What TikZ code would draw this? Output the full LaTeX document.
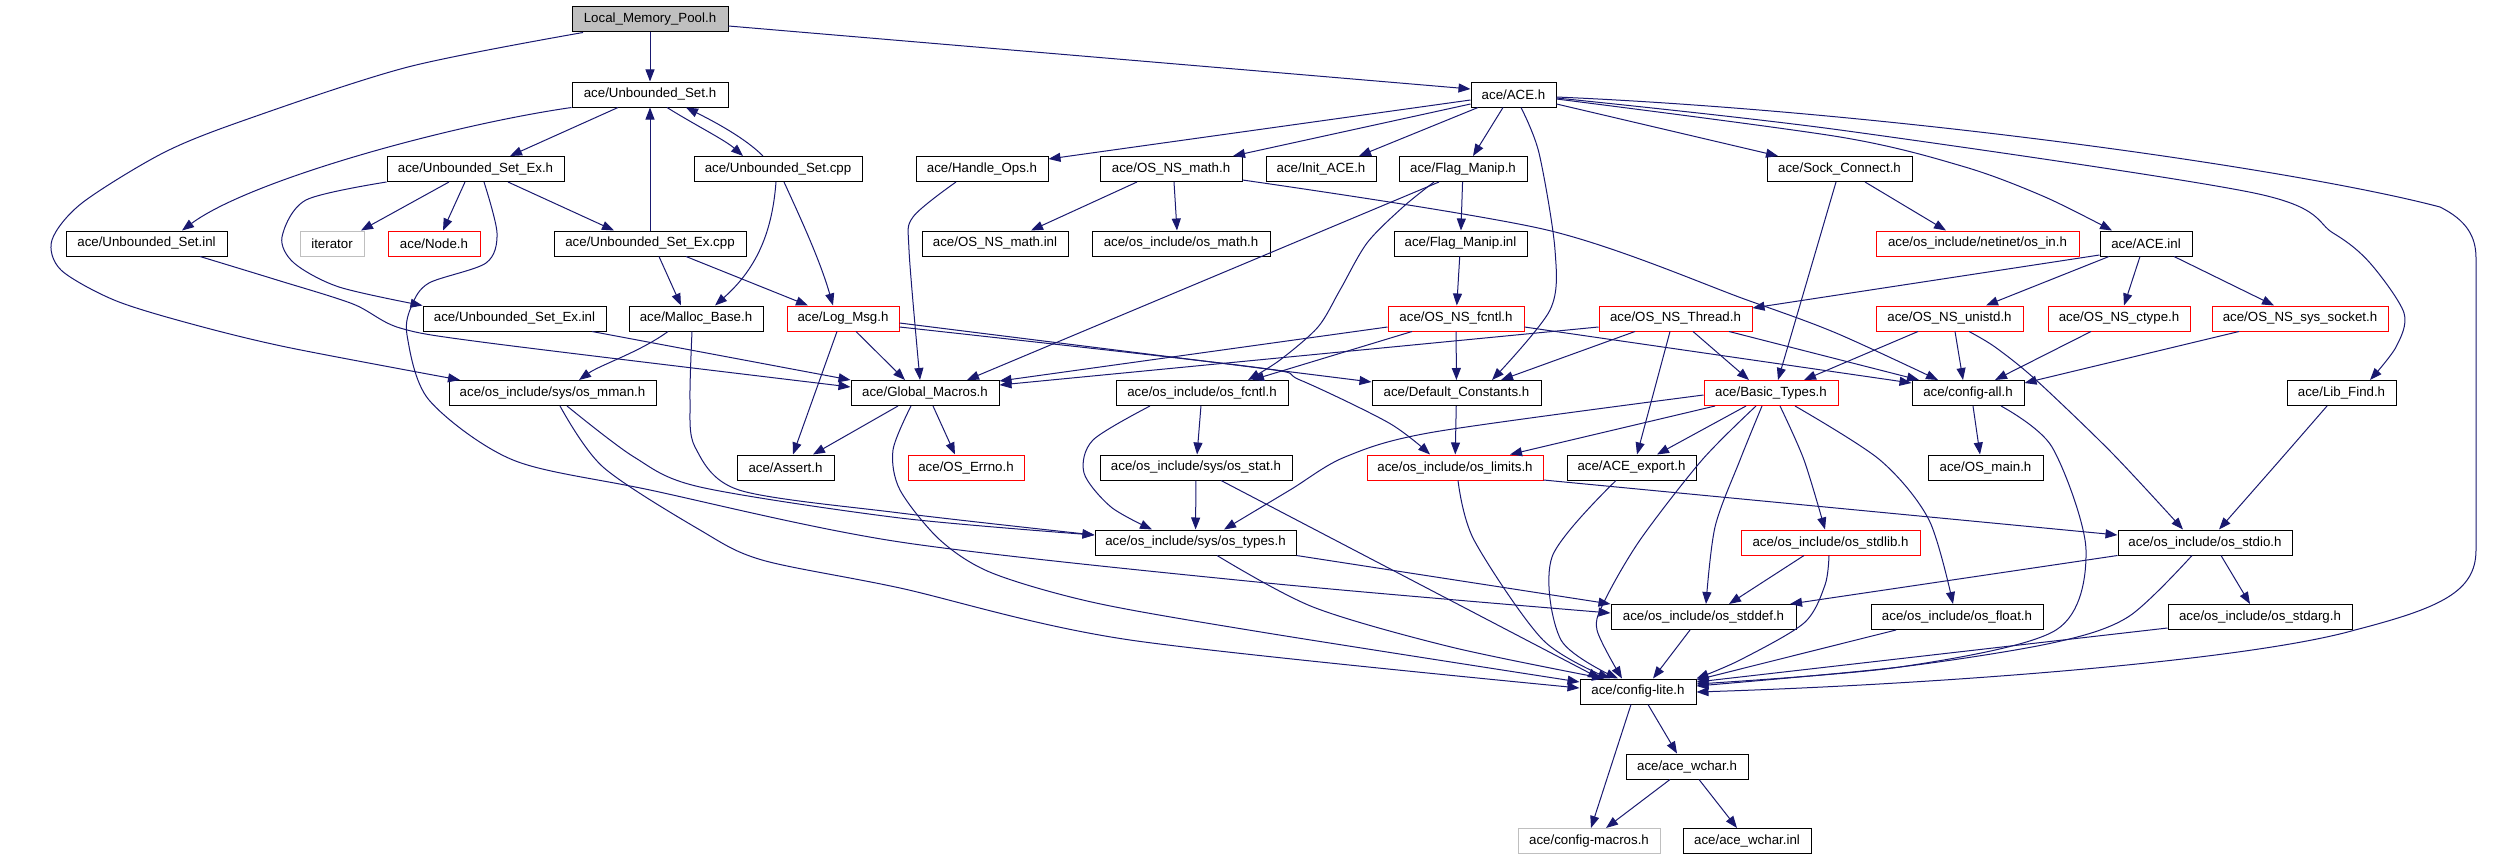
\documentclass[tikz,border=0pt]{standalone}
\usepackage{fontspec}
\setmainfont{Liberation Sans}
\usetikzlibrary{arrows.meta}
\definecolor{edgeblue}{HTML}{191970}
\definecolor{boxgray}{HTML}{BFBFBF}
\newcommand\nfont{\fontsize{13.3pt}{16pt}\selectfont}
\tikzset{
  box/.style={draw=black, line width=1pt, minimum height=25pt, inner sep=0pt, font=\nfont, text=black},
  redbox/.style={box, draw=red},
  graybox/.style={box, draw=boxgray},
  e/.style={draw=edgeblue, line width=1pt, -{Triangle[length=12pt,width=9pt]}},
}
\begin{document}
\begin{tikzpicture}[x=1pt,y=-1pt]
\useasboundingbox (0,0) rectangle (2495,859);
% row 1
\node[box, minimum width=156pt, fill=boxgray] (lmp) at (650,19.5) {Local\_Memory\_Pool.h};
% row 2
\node[box, minimum width=156pt] (usH) at (650,94.5) {ace/Unbounded\_Set.h};
\node[box, minimum width=85pt] (ace) at (1513.5,94.5) {ace/ACE.h};
% row 3
\node[box, minimum width=177pt] (usExH) at (475.5,169) {ace/Unbounded\_Set\_Ex.h};
\node[box, minimum width=168pt] (usCpp) at (778,169) {ace/Unbounded\_Set.cpp};
\node[box, minimum width=132pt] (handle) at (982,169) {ace/Handle\_Ops.h};
\node[box, minimum width=142pt] (nsmath) at (1171,169) {ace/OS\_NS\_math.h};
\node[box, minimum width=110pt] (init) at (1321,169) {ace/Init\_ACE.h};
\node[box, minimum width=128pt] (flag) at (1463,169) {ace/Flag\_Manip.h};
\node[box, minimum width=145pt] (sock) at (1839.5,169) {ace/Sock\_Connect.h};
% row 4
\node[box, minimum width=161pt] (usInl) at (146.5,243.5) {ace/Unbounded\_Set.inl};
\node[graybox, minimum width=64pt] (iter) at (332,243.5) {iterator};
\node[redbox, minimum width=92pt] (nodeh) at (434,243.5) {ace/Node.h};
\node[box, minimum width=192pt] (usExCpp) at (650,243.5) {ace/Unbounded\_Set\_Ex.cpp};
\node[box, minimum width=146pt] (nsmathInl) at (995,243.5) {ace/OS\_NS\_math.inl};
\node[box, minimum width=178pt] (osmath) at (1181,243.5) {ace/os\_include/os\_math.h};
\node[box, minimum width=133pt] (flagInl) at (1460.5,243.5) {ace/Flag\_Manip.inl};
\node[redbox, minimum width=203pt] (osin) at (1977.5,243.5) {ace/os\_include/netinet/os\_in.h};
\node[box, minimum width=92pt] (aceInl) at (2146,243.5) {ace/ACE.inl};
% row 5
\node[box, minimum width=183pt] (usExInl) at (514.5,318.5) {ace/Unbounded\_Set\_Ex.inl};
\node[box, minimum width=134pt] (malloc) at (696,318.5) {ace/Malloc\_Base.h};
\node[redbox, minimum width=112pt] (logmsg) at (843,318.5) {ace/Log\_Msg.h};
\node[redbox, minimum width=136pt] (nsfcntl) at (1456,318.5) {ace/OS\_NS\_fcntl.h};
\node[redbox, minimum width=153pt] (nsthread) at (1675.5,318.5) {ace/OS\_NS\_Thread.h};
\node[redbox, minimum width=147pt] (nsunistd) at (1949.5,318.5) {ace/OS\_NS\_unistd.h};
\node[redbox, minimum width=142pt] (nsctype) at (2119,318.5) {ace/OS\_NS\_ctype.h};
\node[redbox, minimum width=176pt] (nssock) at (2300,318.5) {ace/OS\_NS\_sys\_socket.h};
% row 6
\node[box, minimum width=207pt] (mman) at (552.5,393) {ace/os\_include/sys/os\_mman.h};
\node[box, minimum width=148pt] (gm) at (925,393) {ace/Global\_Macros.h};
\node[box, minimum width=172pt] (osfcntl) at (1202,393) {ace/os\_include/os\_fcntl.h};
\node[box, minimum width=169pt] (defc) at (1456.5,393) {ace/Default\_Constants.h};
\node[redbox, minimum width=134pt] (basic) at (1771,393) {ace/Basic\_Types.h};
\node[box, minimum width=112pt] (cfgall) at (1968,393) {ace/config-all.h};
\node[box, minimum width=109pt] (libfind) at (2341.5,393) {ace/Lib\_Find.h};
% row 7
\node[box, minimum width=97pt] (assert) at (785.5,467.5) {ace/Assert.h};
\node[redbox, minimum width=116pt] (errno) at (966,467.5) {ace/OS\_Errno.h};
\node[box, minimum width=192pt] (osstat) at (1196,467.5) {ace/os\_include/sys/os\_stat.h};
\node[redbox, minimum width=176pt] (limits) at (1455,467.5) {ace/os\_include/os\_limits.h};
\node[box, minimum width=129pt] (export) at (1631.5,467.5) {ace/ACE\_export.h};
\node[box, minimum width=115pt] (osmain) at (1985.5,467.5) {ace/OS\_main.h};
% row 8
\node[box, minimum width=201pt] (ostypes) at (1195.5,542.5) {ace/os\_include/sys/os\_types.h};
\node[redbox, minimum width=179pt] (stdlib) at (1830.5,542.5) {ace/os\_include/os\_stdlib.h};
\node[box, minimum width=174pt] (stdio) at (2205,542.5) {ace/os\_include/os\_stdio.h};
% row 9
\node[box, minimum width=185pt] (stddef) at (1703.5,617) {ace/os\_include/os\_stddef.h};
\node[box, minimum width=172pt] (float) at (1957,617) {ace/os\_include/os\_float.h};
\node[box, minimum width=184pt] (stdarg) at (2260,617) {ace/os\_include/os\_stdarg.h};
% row 10-12
\node[box, minimum width=116pt] (lite) at (1638,691.5) {ace/config-lite.h};
\node[box, minimum width=122pt] (wchar) at (1687,766.5) {ace/ace\_wchar.h};
\node[graybox, minimum width=142pt] (macros) at (1589,841) {ace/config-macros.h};
\node[box, minimum width=128pt] (wcharInl) at (1747,841) {ace/ace\_wchar.inl};

% ---------------- edges ----------------
\draw[e] (lmp) -- (usH);
\draw[e] (lmp.east |- 0,26) -- (ace.west |- 0,89);
\draw[e] plot[smooth] coordinates {(lmp.south -| 583,0) (408,67) (245,120) (163,153) (82,203) (52,240) (61,270) (114,300) (188,323) (286,347) (mman.north -| 460,0)};
\draw[e] (usH.south -| 618,0) -- (usExH.north -| 510,0);
\draw[e] (usH.south west) .. controls (450,125) and (250,180) .. (usInl.north -| 182,0);
\draw[e] (usH.south -| 667,0) .. controls (695,125) and (725,140) .. (usCpp.north -| 743,0);
\draw[e] (usCpp.north -| 763,0) .. controls (745,138) and (715,122) .. (usH.south -| 686,0);
\draw[e] (usExCpp) -- (usH);
\draw[e] (usExH.south -| 449,0) -- (iter.north -| 361,0);
\draw[e] (usExH.south -| 465,0) -- (nodeh.north -| 443,0);
\draw[e] (usExH.south -| 508,0) -- (usExCpp.north -| 614,0);
\draw[e] plot[smooth] coordinates {(usExH.south west) (306,200) (282,237) (294,263) (339,287) (usExInl.north west)};
\draw[e] plot[smooth] coordinates {(usExH.south -| 484,0) (497,233) (486,263) (429,283) (412,305) (407,335) (429,400) (513,460) (650,490) (900,542) (1267,583) (stddef.west |- 0,613)};
\draw[e] (usCpp.south -| 776,0) .. controls (772,235) and (755,270) .. (malloc.north -| 715,0);
\draw[e] (usCpp.south -| 784,0) .. controls (800,217) and (820,260) .. (logmsg.north -| 833,0);
\draw[e] (usExCpp.south -| 659,0) -- (malloc.north -| 681,0);
\draw[e] (usExCpp.south -| 686,0) -- (logmsg.north -| 808,0);
\draw[e] plot[smooth] coordinates {(usInl.south -| 200,0) (277,280) (353,304) (400,328) (489,343) (gm.west |- 0,387)};
\draw[e] (usExInl.south -| 592,0) -- (gm.north west);
\draw[e] (malloc.south -| 668,0) .. controls (640,352) and (600,365) .. (mman.north -| 579,0);
\draw[e] plot[smooth] coordinates {(malloc.south -| 692,0) (690,400) (695,447) (739,490) (900,513) (ostypes.west |- 0,535)};
\draw[e] (logmsg.south -| 856,0) -- (gm.north -| 905,0);
\draw[e] (logmsg.south -| 837,0) -- (assert.north -| 793,0);
\draw[e] (logmsg.east |- 0,323) -- (defc.west |- 0,382);
\draw[e] plot[smooth] coordinates {(logmsg.east |- 0,327) (1253,367) (1300,380) (1389,423) (limits.north -| 1430,0)};
\draw[e] plot[smooth] coordinates {(handle.south -| 956,0) (913,217) (909,250) (gm.north -| 920,0)};
\draw[e] (nsmath.south -| 1137,0) -- (nsmathInl.north -| 1031,0);
\draw[e] (nsmath.south -| 1174,0) -- (osmath.north -| 1177,0);
\draw[e] plot[smooth] coordinates {(nsmath.east |- 0,180) (1547,230) (1747,300) (1836,333) (cfgall.north -| 1938,0)};
\draw[e] (ace.west |- 0,100) -- (handle.east |- 0,159);
\draw[e] (ace.west |- 0,104) -- (nsmath.north -| 1233,0);
\draw[e] (ace.south -| 1478,0) -- (init.north -| 1359,0);
\draw[e] (ace.south -| 1503,0) -- (flag.north -| 1473,0);
\draw[e] plot[smooth] coordinates {(ace.south -| 1521,0) (1539,153) (1555,250) (1550,310) (defc.north -| 1492,0)};
\draw[e] (ace.east |- 0,104) -- (sock.north -| 1778,0);
\draw[e] plot[smooth] coordinates {(ace.east |- 0,99) (1840,137) (1965,167) (2045,197) (aceInl.north -| 2112,0)};
\draw[e] plot[smooth] coordinates {(ace.east |- 0,98) (1840,130) (2254,193) (2333,233) (2370,263) (2404,313) (2396,347) (libfind.north -| 2370,0)};
\draw[e] (ace.east |- 0,97) .. controls (1900,112) and (2300,170) .. (2440,207)
   .. controls (2466,220) and (2476,236) .. (2476,258) -- (2476,550)
   .. controls (2476,592) and (2440,608) .. (2355,630)
   .. controls (2250,660) and (1950,684) .. (lite.east |- 0,692);
\draw[e] (flag) -- (flagInl);
\draw[e] (flagInl) -- (nsfcntl);
\draw[e] (flag.south -| 1439,0) -- (gm.north -| 967,0);
\draw[e] plot[smooth] coordinates {(flag.south -| 1434,0) (1403,207) (1367,243) (1340,290) (1318,327) (1280,360) (osfcntl.north -| 1248,0)};
\draw[e] (sock.south -| 1865,0) -- (osin.north -| 1946,0);
\draw[e] (sock.south -| 1836,0) -- (basic.north -| 1778,0);
\draw[e] (aceInl.west |- 0,255) -- (nsthread.east |- 0,308);
\draw[e] (aceInl.south -| 2109,0) -- (nsunistd.north -| 1986,0);
\draw[e] (aceInl.south -| 2140,0) -- (nsctype.north -| 2124,0);
\draw[e] (aceInl.south -| 2174,0) -- (nssock.north -| 2274,0);
\draw[e] (nsfcntl.west |- 0,327) -- (gm.east |- 0,381);
\draw[e] (nsfcntl.south -| 1412,0) -- (osfcntl.north -| 1252,0);
\draw[e] (nsfcntl) -- (defc);
\draw[e] (nsfcntl.east |- 0,327) -- (cfgall.west |- 0,383);
\draw[e] (nsthread.west |- 0,327) -- (gm.east |- 0,385);
\draw[e] (nsthread.south -| 1635,0) -- (defc.north -| 1501,0);
\draw[e] (nsthread.south -| 1670,0) -- (export.north -| 1637,0);
\draw[e] (nsthread.south -| 1693,0) -- (basic.north -| 1749,0);
\draw[e] (nsthread.south -| 1729,0) -- (cfgall.north -| 1919,0);
\draw[e] (nsunistd.south -| 1918,0) -- (basic.north -| 1804,0);
\draw[e] (nsunistd.south -| 1955,0) -- (cfgall.north -| 1963,0);
\draw[e] plot[smooth] coordinates {(nsunistd.south -| 1969,0) (1995,347) (2036,380) (2112,453) (stdio.north -| 2183,0)};
\draw[e] (nsctype.south -| 2091,0) -- (cfgall.north -| 1995,0);
\draw[e] (nssock.south -| 2239,0) -- (cfgall.east |- 0,383);
\draw[e] plot[smooth] coordinates {(mman.south -| 567,0) (634,457) (700,487) (900,518) (ostypes.west |- 0,535)};
\draw[e] plot[smooth] coordinates {(mman.south -| 560,0) (603,467) (700,530) (762,560) (900,588) (1130,640) (lite.west |- 0,688)};
\draw[e] (gm.south -| 898,0) -- (assert.north -| 813,0);
\draw[e] (gm.south -| 933,0) -- (errno.north -| 955,0);
\draw[e] plot[smooth] coordinates {(gm.south -| 911,0) (893,450) (900,490) (940,540) (992,573) (1096,603) (1267,633) (lite.west |- 0,682)};
\draw[e] (osfcntl) -- (osstat);
\draw[e] plot[smooth] coordinates {(osfcntl.south -| 1150,0) (1093,440) (1084,473) (1111,507) (ostypes.north -| 1152,0)};
\draw[e] (osstat) -- (ostypes);
\draw[e] (osstat.south -| 1221,0) -- (lite.north -| 1600,0);
\draw[e] (ostypes.south east) -- (stddef.north west);
\draw[e] plot[smooth] coordinates {(ostypes.south -| 1217,0) (1313,607) (1451,647) (lite.north -| 1604,0)};
\draw[e] plot[smooth] coordinates {(limits.south -| 1458,0) (1474,540) (1543,640) (lite.north -| 1610,0)};
\draw[e] (limits.east |- 0,480) -- (stdio.west |- 0,535);
\draw[e] (defc) -- (limits);
\draw[e] plot[smooth] coordinates {(basic.west |- 0,395) (1434,432) (1345,457) (1290,490) (ostypes.north -| 1224,0)};
\draw[e] (basic.south -| 1715,0) -- (limits.north -| 1510,0);
\draw[e] (basic.south -| 1746,0) -- (export.north -| 1657,0);
\draw[e] plot[smooth] coordinates {(basic.south -| 1762,0) (1740,460) (1715,527) (stddef.north -| 1706,0)};
\draw[e] plot[smooth] coordinates {(basic.south -| 1756,0) (1702,460) (1640,540) (1605,600) (1597,630) (lite.north -| 1622,0)};
\draw[e] plot[smooth] coordinates {(basic.south -| 1780,0) (1804,460) (stdlib.north -| 1825,0)};
\draw[e] plot[smooth] coordinates {(basic.south -| 1795,0) (1880,460) (1929,520) (float.north -| 1953,0)};
\draw[e] plot[smooth] coordinates {(export.south -| 1616,0) (1552,557) (1561,640) (lite.north -| 1618,0)};
\draw[e] (cfgall.south -| 1973,0) -- (osmain.north -| 1980,0);
\draw[e] plot[smooth] coordinates {(cfgall.south -| 2001,0) (2052,447) (2086,550) (2056,630) (1900,667) (lite.east |- 0,684)};
\draw[e] plot[smooth] coordinates {(libfind.south -| 2327,0) (2280,460) (stdio.north -| 2219,0)};
\draw[e] (stdlib.south -| 1804,0) -- (stddef.north -| 1729,0);
\draw[e] plot[smooth] coordinates {(stdlib.south -| 1829,0) (1825,585) (1804,623) (1740,660) (lite.north east)};
\draw[e] (stdio.south west) -- (stddef.north -| 1790,0);
\draw[e] (stdio.south -| 2221,0) -- (stdarg.north -| 2250,0);
\draw[e] plot[smooth] coordinates {(stdio.south -| 2192,0) (2128,617) (2052,643) (1900,667) (lite.east |- 0,686)};
\draw[e] (stddef.south -| 1690,0) -- (lite.north -| 1653,0);
\draw[e] (float.south -| 1896,0) -- (lite.east |- 0,680);
\draw[e] (stdarg.west |- 0,628) -- (lite.east |- 0,682);
\draw[e] (lite.south -| 1648,0) -- (wchar.north -| 1677,0);
\draw[e] (lite.south -| 1631,0) -- (macros.north -| 1591,0);
\draw[e] (wchar.south -| 1670,0) -- (macros.north -| 1606,0);
\draw[e] (wchar.south -| 1699,0) -- (wcharInl.north -| 1737,0);
\end{tikzpicture}
\end{document}
